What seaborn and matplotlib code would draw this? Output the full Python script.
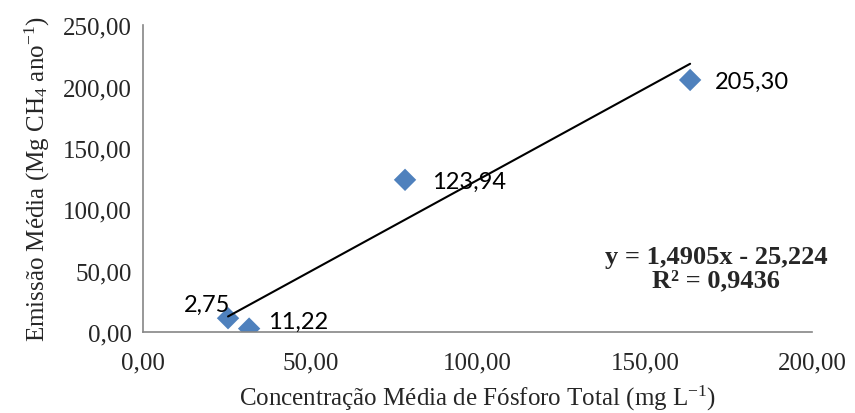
import matplotlib
matplotlib.use('Agg')
import matplotlib.pyplot as plt
import seaborn as sns
import numpy as np
import pandas as pd

# values
fosforo = [25.4, 31.7, 78.3, 163.5]
emissao = [11.22, 2.75, 123.94, 205.30]
rotulos = ['2,75', '11,22', '123,94', '205,30']
# trendline coefficients shown on the chart
slope = 1.4905
intercept = -25.224
eq_text = 'y = 1,4905x - 25,224\nR² = 0,9436'
x_ticks = [0, 50, 100, 150, 200]
y_ticks = [0, 50, 100, 150, 200, 250]

sns.set_style('white')
plt.rcParams['font.family'] = 'serif'
plt.rcParams['font.serif'] = ['Liberation Serif', 'DejaVu Serif']
plt.rcParams['mathtext.fontset'] = 'custom'
plt.rcParams['mathtext.rm'] = 'Liberation Serif'
plt.rcParams['mathtext.it'] = 'Liberation Serif:italic'
plt.rcParams['mathtext.bf'] = 'Liberation Serif:bold'

SERIF = 'Liberation Serif'

df = pd.DataFrame({'fosforo': fosforo, 'emissao': emissao})

fig = plt.figure(figsize=(8.55, 4.14), dpi=100)
ax = fig.add_axes([0.1673, 0.1957, 0.7827, 0.7413])

# linear trendline
xs = np.array([min(fosforo), max(fosforo)])
ax.plot(xs, slope * xs + intercept, color='black', lw=1.5, zorder=3)

sns.scatterplot(data=df, x='fosforo', y='emissao', marker='D', s=130,
                color='#4F81BD', edgecolor='none', ax=ax, zorder=2)

# data labels (same positions as the original)
offsets = [(2, 14, 'right'), (19, 7, 'left'), (27, -2, 'left'), (25, -1, 'left')]
for xv, yv, lab, (dx, dy, ha) in zip(fosforo, emissao, rotulos, offsets):
    ax.annotate(lab, (xv, yv), xytext=(dx, dy), textcoords='offset pixels',
                ha=ha, va='center', fontsize=17, family='Lato', color='black')

ax.text(171.3, 52, eq_text, ha='center', va='center', fontsize=19,
        fontweight='bold', family=SERIF, multialignment='center', linespacing=1.0)

ax.set_xlim(0, 200)
ax.set_ylim(0, 250)
ax.set_xticks(x_ticks)
ax.set_yticks(y_ticks)
ax.set_xticklabels([f'{v:.2f}'.replace('.', ',') for v in x_ticks], fontsize=18, family=SERIF)
ax.set_yticklabels([f'{v:.2f}'.replace('.', ',') for v in y_ticks], fontsize=18, family=SERIF)
ax.tick_params(axis='both', length=0, pad=8)
ax.tick_params(axis='x', pad=14)

for side in ['top', 'right']:
    ax.spines[side].set_visible(False)
for side in ['left', 'bottom']:
    ax.spines[side].set_color('#868686')
    ax.spines[side].set_linewidth(1.2)

ax.set_xlabel('Concentração Média de Fósforo Total (mg L$^{-1}$)', fontsize=18,
              family=SERIF, labelpad=7)
ax.set_ylabel('Emissão Média (Mg CH$_4$ ano$^{-1}$)', fontsize=18,
              family=SERIF, labelpad=8)

fig.savefig('out.png', dpi=100)
